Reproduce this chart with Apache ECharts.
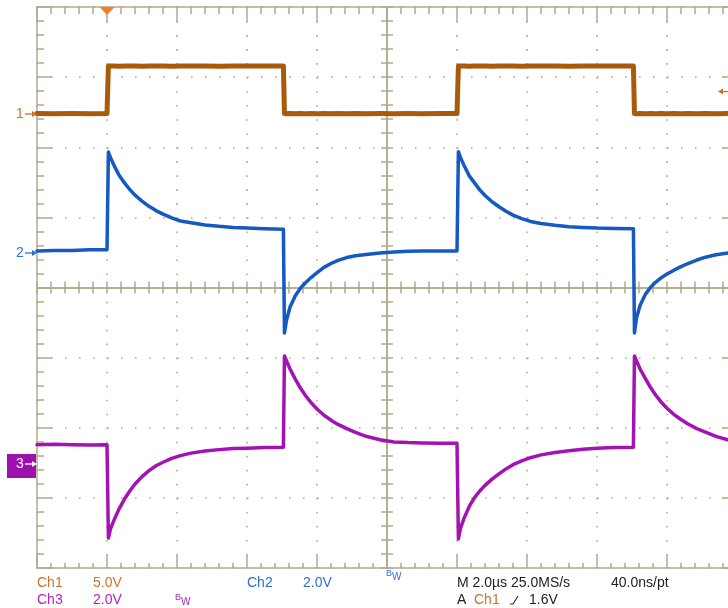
<!DOCTYPE html>
<html><head><meta charset="utf-8">
<script src="https://cdn.jsdelivr.net/npm/echarts@6/dist/echarts.min.js"></script>
<style>html,body{margin:0;padding:0;background:#fff}#c{width:728px;height:608px}</style>
</head><body><div id="c"></div>
<script>
// ---- data (time in microseconds, channel values in volts) ----
const timeUs = [
  0, 0.5, 1.0, 1.5, 2.0,
  2.04, 2.1, 2.2, 2.35, 2.5, 2.65, 2.8, 3.0, 3.2, 3.4, 3.6, 3.85, 4.1, 4.4, 4.8, 5.2, 5.6, 6.0, 6.5, 7.04,
  7.07, 7.13, 7.23, 7.38, 7.53, 7.68, 7.83, 8.0, 8.2, 8.4, 8.6, 8.85, 9.1, 9.4, 9.8, 10.2, 10.6, 11.0, 11.5, 12.0,
  12.04, 12.1, 12.2, 12.35, 12.5, 12.65, 12.8, 13.0, 13.2, 13.4, 13.6, 13.85, 14.1, 14.4, 14.8, 15.2, 15.6, 16.0, 16.5, 17.04,
  17.07, 17.13, 17.23, 17.38, 17.53, 17.68, 17.83, 18.0, 18.2, 18.4, 18.6, 18.85, 19.1, 19.4, 19.8
];
const ch1Volts = [
  0.03, 0.02, 0.03, 0.02, 0.03,
  3.42, 3.43, 3.42, 3.41, 3.42, 3.43, 3.42, 3.41, 3.42, 3.43, 3.42, 3.41, 3.42, 3.43, 3.42, 3.41, 3.42, 3.43, 3.42, 3.42,
  0.03, 0.02, 0.03, 0.02, 0.03, 0.02, 0.03, 0.02, 0.03, 0.02, 0.03, 0.02, 0.03, 0.02, 0.03, 0.02, 0.03, 0.02, 0.03, 0.03,
  3.42, 3.43, 3.42, 3.41, 3.42, 3.43, 3.42, 3.41, 3.42, 3.43, 3.42, 3.41, 3.42, 3.43, 3.42, 3.41, 3.42, 3.43, 3.42, 3.42,
  0.03, 0.02, 0.03, 0.02, 0.03, 0.02, 0.03, 0.02, 0.03, 0.02, 0.03, 0.02, 0.03, 0.02, 0.03
];
const ch2Volts = [
  0.06, 0.07, 0.07, 0.09, 0.09,
  2.88, 2.72, 2.50, 2.21, 2.00, 1.81, 1.65, 1.48, 1.33, 1.21, 1.11, 1.00, 0.91, 0.86, 0.80, 0.76, 0.73, 0.71, 0.69, 0.68,
  -2.28, -1.91, -1.54, -1.22, -1.00, -0.84, -0.70, -0.56, -0.41, -0.30, -0.21, -0.13, -0.08, -0.04, 0.00, 0.03, 0.05, 0.06, 0.06, 0.06,
  2.89, 2.72, 2.50, 2.20, 2.00, 1.80, 1.64, 1.46, 1.32, 1.19, 1.08, 0.98, 0.90, 0.84, 0.79, 0.75, 0.73, 0.71, 0.70, 0.69,
  -2.28, -1.85, -1.50, -1.18, -0.98, -0.83, -0.71, -0.60, -0.49, -0.39, -0.30, -0.20, -0.12, -0.05, 0.01
];
const ch3Volts = [
  0.55, 0.56, 0.55, 0.54, 0.55,
  -2.11, -1.85, -1.60, -1.27, -1.00, -0.77, -0.57, -0.36, -0.19, -0.05, 0.05, 0.16, 0.24, 0.31, 0.37, 0.41, 0.44, 0.45, 0.47, 0.48,
  3.08, 2.94, 2.71, 2.42, 2.16, 1.94, 1.75, 1.57, 1.39, 1.25, 1.13, 1.01, 0.90, 0.79, 0.69, 0.63, 0.61, 0.60, 0.59, 0.59,
  -2.14, -1.83, -1.55, -1.21, -0.96, -0.77, -0.61, -0.43, -0.28, -0.14, -0.02, 0.09, 0.18, 0.26, 0.33, 0.38, 0.42, 0.45, 0.47, 0.48,
  3.08, 2.94, 2.71, 2.44, 2.18, 1.96, 1.77, 1.59, 1.41, 1.27, 1.14, 1.01, 0.91, 0.79, 0.67
];
const voltsPerDiv = [5, 2, 2];          // Ch1, Ch2, Ch3
const groundDivFromTop = [1.526, 3.508, 6.517];
const triggerTimeUs = 2.0;
const triggerLevelV = 1.6;
const timePerDivUs = 2;
const horizDivs = 10, vertDivs = 8;

// ---- styling ----
const GRID = '#b3aa8c';
const C1 = '#a95a0a', C2 = '#1559c2', C3 = '#a313b3';
const T1 = '#c8752d', T2 = '#2f6fd4', T3 = '#b024c0', TK = '#222';
const FONT = '"Liberation Sans", Arial, sans-serif';
const gl = {left: 37, top: 7, width: 700, height: 561};

const chart = echarts.init(document.getElementById('c'), null, {renderer: 'canvas'});

const lineSt = {color: GRID, width: 1.5};
function xAx(extra) {
  return Object.assign({
    type: 'value', min: 0, max: horizDivs * timePerDivUs, interval: timePerDivUs,
    axisLabel: {show: false}, splitLine: {show: false},
    axisLine: {show: true, onZero: false, lineStyle: lineSt},
    axisTick: {show: true, inside: true, length: 6, lineStyle: lineSt},
    minorTick: {show: true, splitNumber: 5, length: 6, lineStyle: lineSt}
  }, extra);
}
function yAx(extra) {
  return Object.assign({
    type: 'value', min: -vertDivs / 2, max: vertDivs / 2, interval: 1,
    axisLabel: {show: false}, splitLine: {show: false},
    axisLine: {show: true, onZero: false, lineStyle: lineSt},
    axisTick: {show: true, inside: true, length: 6, lineStyle: lineSt},
    minorTick: {show: true, splitNumber: 5, length: 6, lineStyle: lineSt}
  }, extra);
}
const dot = 14.025;
const xAxes = [
  xAx({position: 'bottom',
       axisTick: {show: true, inside: true, length: 13, lineStyle: lineSt},
       minorTick: {show: true, splitNumber: 5, length: 5, lineStyle: lineSt},
       splitLine: {show: true, lineStyle: {color: GRID, width: 1.6, type: [1.6, dot - 1.6]}}}),
  xAx({position: 'top',
       axisTick: {show: true, inside: true, length: 15, lineStyle: lineSt},
       minorTick: {show: true, splitNumber: 5, length: 7, lineStyle: lineSt}}),
  xAx({position: 'bottom', offset: -gl.height / 2}),
  xAx({position: 'bottom', offset: -gl.height / 2,
       axisTick: {show: true, inside: false, length: 6, lineStyle: lineSt}})
];
const yAxes = [
  yAx({position: 'left',
       axisTick: {show: true, inside: true, length: 15, lineStyle: lineSt},
       minorTick: {show: true, splitNumber: 5, length: 7, lineStyle: lineSt},
       splitLine: {show: true, lineStyle: {color: GRID, width: 1.6, type: [1.6, 14 - 1.6]}}}),
  yAx({position: 'right',
       axisTick: {show: true, inside: true, length: 15, lineStyle: lineSt},
       minorTick: {show: true, splitNumber: 5, length: 7, lineStyle: lineSt}}),
  yAx({position: 'left', offset: -gl.width / 2}),
  yAx({position: 'left', offset: -gl.width / 2,
       axisTick: {show: true, inside: false, length: 6, lineStyle: lineSt}})
];
for (let i = 0; i < 3; i++) {
  const mx = groundDivFromTop[i] * voltsPerDiv[i];
  yAxes.push({type: 'value', show: false, min: mx - vertDivs * voltsPerDiv[i], max: mx,
              axisLine: {onZero: false}, splitLine: {show: false}});
}
const pairs = arr => timeUs.map((t, i) => [t, arr[i]]);
function trace(name, arr, axis, color, w) {
  return {type: 'line', name: name, xAxisIndex: 0, yAxisIndex: axis, data: pairs(arr),
          showSymbol: false, symbol: 'none', silent: true, z: 5,
          lineStyle: {color: color, width: w, join: 'round', cap: 'round'}};
}
chart.setOption({
  animation: false,
  backgroundColor: '#ffffff',
  grid: Object.assign({containLabel: false, outerBoundsMode: 'none'}, gl),
  xAxis: xAxes,
  yAxis: yAxes,
  series: [
    trace('Ch1', ch1Volts, 4, C1, 5),
    trace('Ch2', ch2Volts, 5, C2, 3.5),
    trace('Ch3', ch3Volts, 6, C3, 3.5)
  ]
});

// ---- markers placed through the axes' scales ----
const gY = [4, 5, 6].map(ix => chart.convertToPixel({yAxisIndex: ix}, 0));
const trigX = chart.convertToPixel({xAxisIndex: 0}, triggerTimeUs);
const trigY = chart.convertToPixel({yAxisIndex: 4}, triggerLevelV);
const gridTop = gl.top;
function txt(s, x, y, color, size, extra) {
  return Object.assign({type: 'text', x: x, y: y, z: 20, silent: true,
    style: {text: s, fill: color, font: (size || 14) + 'px ' + FONT, textVerticalAlign: 'middle', textAlign: 'left'}}, extra || {});
}
function arrowRight(y, color) {
  return [
    {type: 'line', z: 20, shape: {x1: 25, y1: y, x2: 34, y2: y}, style: {stroke: color, lineWidth: 1.3}},
    {type: 'polygon', z: 20, shape: {points: [[32, y - 3], [37, y], [32, y + 3]]}, style: {fill: color}}
  ];
}
const g = [];
g.push({type: 'polygon', z: 20, shape: {points: [[trigX - 7.5, gridTop], [trigX + 7.5, gridTop], [trigX, gridTop + 8]]}, style: {fill: '#f97b2f'}});
g.push(txt('1', 16, gY[0], T1, 14));
g.push(...arrowRight(gY[0], T1));
g.push(txt('2', 16, gY[1], T2, 14));
g.push(...arrowRight(gY[1], T2));
g.push({type: 'rect', z: 19, shape: {x: 7, y: gY[2] - 10, width: 29, height: 24}, style: {fill: '#9e10ae'}});
g.push(txt('3', 16, gY[2], '#ffffff', 14));
g.push(...arrowRight(gY[2], '#ffffff'));
g.push({type: 'line', z: 20, shape: {x1: 721, y1: trigY, x2: 729, y2: trigY}, style: {stroke: T1, lineWidth: 1.3}});
g.push({type: 'polygon', z: 20, shape: {points: [[723, trigY - 3], [718, trigY], [723, trigY + 3]]}, style: {fill: T1}});
// readout
const L1 = 583, L2 = 600;
g.push(txt('Ch1', 37, L1, T1), txt('5.0V', 93, L1, T1), txt('Ch2', 247, L1, T2), txt('2.0V', 303, L1, T2));
g.push(txt('B', 386, 574, T2, 9), txt('W', 392, 577, T2, 10));
g.push(txt('M 2.0µs 25.0MS/s', 457, L1, TK), txt('40.0ns/pt', 611, L1, TK));
g.push(txt('Ch3', 37, L2, T3), txt('2.0V', 93, L2, T3));
g.push(txt('B', 175, 598, T3, 9), txt('W', 181, 602, T3, 10));
g.push(txt('A', 457, L2, TK), txt('Ch1', 474, L2, T1));
g.push({type: 'polyline', z: 20, shape: {points: [[510, 604], [513, 604], [518, 596]]}, style: {stroke: TK, lineWidth: 1.1, fill: null}});
g.push(txt('1.6V', 529, L2, TK));
chart.setOption({graphic: g});
</script>
</body></html>
